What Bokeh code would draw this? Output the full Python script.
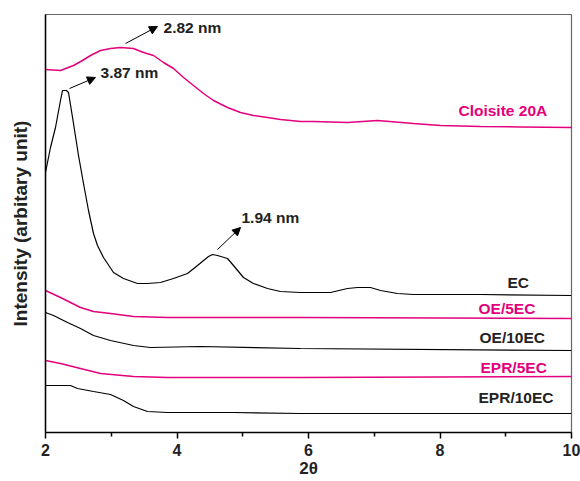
from bokeh.plotting import figure
from bokeh.models import Range1d, FixedTicker, Label, Arrow, NormalHead
from bokeh.embed import file_html
from bokeh.resources import INLINE

MAGENTA = "#E4007C"
FONT = "Liberation Sans"

# ---- data (2theta, arbitrary intensity) ----
cloisite_x = [2.000, 2.228, 2.426, 2.563, 2.684, 2.837, 2.989, 3.141, 3.338, 3.490, 3.643,
              3.795, 3.947, 4.099, 4.251, 4.403, 4.555, 4.768, 4.966, 5.163, 5.376, 5.574,
              5.878, 6.076, 6.593, 7.049, 7.597, 8.008, 8.616, 9.224, 10.0]
cloisite_y = [363, 362, 367, 372, 377, 382, 384, 385, 384, 380, 377,
              370, 364, 355, 347, 339, 332, 325, 320, 317, 315, 313,
              311, 311, 310, 312, 309, 307, 306, 305.5, 305]

ec_x = [2.000, 2.076, 2.152, 2.228, 2.259, 2.319, 2.350, 2.426, 2.502, 2.578, 2.654, 2.730,
        2.791, 2.882, 3.034, 3.186, 3.399, 3.551, 3.749, 3.947, 4.160, 4.312, 4.479, 4.540,
        4.616, 4.768, 4.859, 5.011, 5.163, 5.376, 5.574, 5.878, 6.335, 6.593, 6.745, 6.943,
        7.095, 7.354, 7.597, 8.616, 10.0]
ec_y = [260, 285, 305, 332, 342, 342, 340, 309, 277, 249, 222, 199,
        187, 175, 160, 154, 149, 149, 150, 154, 159, 167, 176, 178,
        177, 174, 167, 155, 149, 144, 141, 140, 140, 144, 145, 145,
        142, 139, 138, 138, 137]

oe5_x = [2.000, 2.228, 2.380, 2.532, 2.730, 2.989, 3.338, 3.856, 5.878, 10.0]
oe5_y = [142, 135, 130, 125, 121, 119, 116, 115, 115, 114]

oe10_x = [2.000, 2.122, 2.335, 2.532, 2.730, 2.989, 3.338, 3.597, 4.357, 5.878, 10.0]
oe10_y = [120, 117, 110, 104, 97, 92, 87, 85, 86, 84, 82]

epr5_x = [2.000, 2.228, 2.532, 2.837, 3.338, 3.856, 5.878, 10.0]
epr5_y = [72, 69, 64, 59, 56, 55, 55, 56]

epr10_x = [2.000, 2.380, 2.487, 2.730, 2.989, 3.186, 3.338, 3.551, 3.856, 4.859, 5.878, 10.0]
epr10_y = [47, 47, 44, 41, 38, 32, 26, 21, 20, 20, 19, 19]

x_ticks = [2, 4, 6, 8, 10]
x_minor = [3, 5, 7, 9]

p = figure(width=580, height=481, output_backend="svg", toolbar_location=None,
           x_range=Range1d(2, 10), y_range=Range1d(0, 418),
           min_border_left=45, min_border_right=9, min_border_top=14, min_border_bottom=49)
p.background_fill_color = "white"
p.border_fill_color = "white"
p.outline_line_color = "#666666"
p.outline_line_width = 1.2
p.xgrid.visible = False
p.ygrid.visible = False

# axes
xa = p.xaxis[0]
xa.ticker = FixedTicker(ticks=x_ticks, minor_ticks=x_minor)
xa.axis_line_color = "black"
xa.axis_line_width = 1.5
xa.major_tick_in = 0
xa.major_tick_out = 6
xa.minor_tick_in = 0
xa.minor_tick_out = 4
xa.major_tick_line_width = 1.5
xa.minor_tick_line_width = 1.5
xa.major_label_text_font = FONT
xa.major_label_text_font_style = "bold"
xa.major_label_text_font_size = "16px"
xa.major_label_text_color = "#222222"
xa.major_label_standoff = 5
xa.axis_label = "2θ"
xa.axis_label_text_font = FONT
xa.axis_label_text_font_style = "bold"
xa.axis_label_text_font_size = "17px"
xa.axis_label_text_color = "#222222"
xa.axis_label_standoff = 0

ya = p.yaxis[0]
ya.ticker = FixedTicker(ticks=[])
ya.axis_line_color = "black"
ya.axis_line_width = 1.5
ya.major_tick_out = 0
ya.major_tick_in = 0
ya.minor_tick_out = 0
ya.minor_tick_in = 0
ya.axis_label = "Intensity (arbitary unit)"
ya.axis_label_text_font = FONT
ya.axis_label_text_font_style = "bold"
ya.axis_label_text_font_size = "19px"
ya.axis_label_text_color = "#222222"
ya.axis_label_standoff = 15

# curves
p.line(cloisite_x, cloisite_y, line_color=MAGENTA, line_width=1.5)
p.line(ec_x, ec_y, line_color="black", line_width=1.2)
p.line(oe5_x, oe5_y, line_color=MAGENTA, line_width=1.5)
p.line(oe10_x, oe10_y, line_color="black", line_width=1.2)
p.line(epr5_x, epr5_y, line_color=MAGENTA, line_width=1.5)
p.line(epr10_x, epr10_y, line_color="black", line_width=1.2)

def lab(x, y, t, color="#222222", size="15.5px"):
    p.add_layout(Label(x=x, y=y, text=t, text_color=color, text_font=FONT,
                       text_font_style="bold", text_font_size=size,
                       text_baseline="middle", text_align="left"))

# series labels
lab(8.281, 322, "Cloisite 20A", MAGENTA)
lab(9.027, 150, "EC")
lab(8.586, 124, "OE/5EC", MAGENTA)
lab(8.601, 95, "OE/10EC")
lab(8.616, 65, "EPR/5EC", MAGENTA)
lab(8.586, 35, "EPR/10EC")

# peak annotations
def arr(x0, y0, x1, y1):
    p.add_layout(Arrow(end=NormalHead(size=8, fill_color="black", line_color="black"),
                       x_start=x0, y_start=y0, x_end=x1, y_end=y1,
                       line_color="black", line_width=1))

arr(3.217, 389, 3.703, 406)
lab(3.795, 405, "2.82 nm")
arr(2.365, 344, 2.760, 355)
lab(2.837, 360, "3.87 nm")
arr(4.616, 183, 4.966, 205)
lab(4.981, 215, "1.94 nm")

open("out.html", "w").write(file_html(p, INLINE))
